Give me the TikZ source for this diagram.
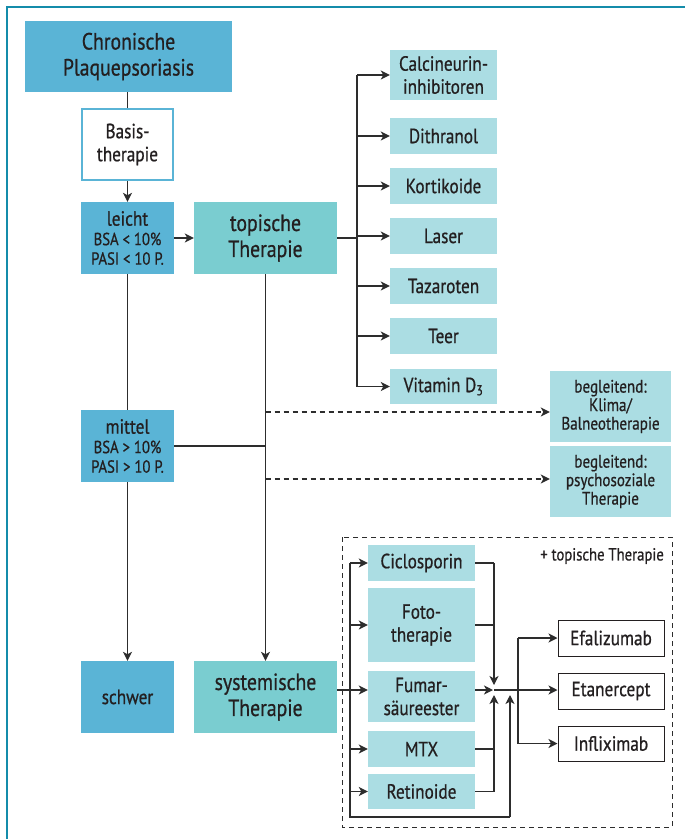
\documentclass[tikz,border=0pt]{standalone}
\usepackage{fontspec}
\setmainfont[FakeStretch=0.84,FakeBold=0.7]{PT Sans}
\usetikzlibrary{arrows.meta}
\definecolor{cblue}{RGB}{90,180,214}
\definecolor{cteal}{RGB}{122,205,208}
\definecolor{clight}{RGB}{171,221,227}
\definecolor{cframe}{RGB}{20,140,170}
\definecolor{ctext}{RGB}{35,31,32}
\definecolor{cline}{RGB}{45,45,45}
\newcommand{\fsXL}{\fontsize{23.5}{26}\selectfont}
\newcommand{\fsL}{\fontsize{20.5}{23}\selectfont}
\newcommand{\fsM}{\fontsize{18}{18.5}\selectfont}
\newcommand{\fsS}{\fontsize{17.5}{19.5}\selectfont}
\newcommand{\fsP}{\fontsize{17.5}{19}\selectfont}
\begin{document}
\begin{tikzpicture}[x=1pt,y=-1pt,
  box/.style={rectangle, inner sep=0pt, align=center, text=ctext},
  bluebox/.style={box, fill=cblue},
  tealbox/.style={box, fill=cteal},
  lightbox/.style={box, fill=clight},
  whitebox/.style={box, fill=white, draw=ctext, line width=1pt},
  ln/.style={draw=cline, line width=1.3pt},
  arr/.style={ln, -{Stealth[length=9pt,width=9pt,inset=2.5pt]}},
  darr/.style={arr, dash pattern=on 5pt off 4pt},
]
\useasboundingbox (0,0) rectangle (685,839);
\draw[cframe, line width=2pt] (7,845) -- (7,7) -- (690,7);

% left column
\node[bluebox, minimum width=207pt, minimum height=71pt, font=\fsXL] (chron) at (128.5,56.5) {Chronische\\Plaquepsoriasis};
\node[box, fill=white, draw=cblue, line width=2pt, minimum width=91pt, minimum height=71pt, font=\fsL] (basis) at (127.5,144.5) {Basis-\\therapie};
\node[bluebox, minimum width=93pt, minimum height=72pt, font=\fsS] (leicht) at (127.5,238) {{\fsL leicht}\\BSA < 10\%\\PASI < 10 P.};
\node[tealbox, minimum width=143pt, minimum height=72pt, font=\fsXL] (topische) at (265.5,238) {topische\\Therapie};
\node[bluebox, minimum width=93pt, minimum height=72pt, font=\fsS] (mittel) at (127.5,446) {{\fsL mittel}\\BSA > 10\%\\PASI > 10 P.};
\node[bluebox, minimum width=93pt, minimum height=72pt, font=\fsL] (schwer) at (127.5,697) {schwer};
\node[tealbox, minimum width=143pt, minimum height=72pt, font=\fsXL] (system) at (265.5,697) {systemische\\Therapie};

% topical list
\node[lightbox, minimum width=107pt, minimum height=50pt, font=\fsL] (calc) at (443.5,75) {Calcineurin-\\inhibitoren};
\node[lightbox, minimum width=107pt, minimum height=36pt, font=\fsL] (dith) at (443.5,136) {Dithranol};
\node[lightbox, minimum width=107pt, minimum height=36pt, font=\fsL] (kort) at (443.5,186) {Kortikoide};
\node[lightbox, minimum width=107pt, minimum height=36pt, font=\fsL] (laser) at (443.5,236) {Laser};
\node[lightbox, minimum width=107pt, minimum height=36pt, font=\fsL] (taz) at (443.5,286) {Tazaroten};
\node[lightbox, minimum width=107pt, minimum height=36pt, font=\fsL] (teer) at (443.5,336) {Teer};
\node[lightbox, minimum width=107pt, minimum height=35pt, font=\fsL] (vitd) at (443.5,386.5) {Vitamin D\textsubscript{3}};

% accompanying
\node[lightbox, minimum width=121pt, minimum height=71pt, font=\fsM] (klima) at (610.5,406.5) {begleitend:\\Klima/\\Balneotherapie};
\node[lightbox, minimum width=121pt, minimum height=71pt, font=\fsM] (psycho) at (610.5,481.5) {begleitend:\\psychosoziale\\Therapie};

% systemic group
\draw[cline, line width=1pt, dash pattern=on 5pt off 4pt] (342,537) rectangle (672,827);
\node[box, anchor=east, font=\fsP] (plus) at (664,556) {+ topische Therapie};
\node[lightbox, minimum width=107pt, minimum height=36pt, font=\fsL] (cic) at (421.5,563) {Ciclosporin};
\node[lightbox, minimum width=107pt, minimum height=74pt, font=\fsL] (foto) at (421.5,625) {Foto-\\therapie};
\node[lightbox, minimum width=107pt, minimum height=51pt, font=\fsL] (fumar) at (421.5,696.5) {Fumar-\\säureester};
\node[lightbox, minimum width=107pt, minimum height=36pt, font=\fsL] (mtx) at (421.5,749) {MTX};
\node[lightbox, minimum width=107pt, minimum height=35pt, font=\fsL] (retin) at (421.5,791.5) {Retinoide};

\node[whitebox, minimum width=106pt, minimum height=36pt, font=\fsL] (efa) at (611,638) {Efalizumab};
\node[whitebox, minimum width=106pt, minimum height=36pt, font=\fsL] (etan) at (611,691) {Etanercept};
\node[whitebox, minimum width=106pt, minimum height=35pt, font=\fsL] (infl) at (611,743.5) {Infliximab};

% connectors left
\draw[ln] (basis.north |- chron.south) -- (basis.north);
\draw[arr] (basis.south) -- (leicht.north);
\draw[arr] (leicht.east) -- (topische.west);
\draw[ln] (leicht.south) -- (mittel.north);
\draw[arr] (mittel.south) -- (schwer.north);
\draw[arr] (topische.south) -- (system.north);
\draw[ln] (mittel.east) -- (mittel.east -| topische.south);
\draw[darr] (topische.south |- 0,412) -- (klima.west |- 0,412);
\draw[darr] (topische.south |- 0,479) -- (psycho.west |- 0,479);

% topical bus
\coordinate (tb) at (357,0);
\draw[ln] (topische.east) -- (tb |- topische.east);
\draw[ln] (tb |- calc.west) -- (tb |- vitd.west);
\foreach \n in {calc,dith,kort,laser,taz,teer,vitd}
  \draw[arr] (tb |- \n.west) -- (\n.west);

% systemic connectors
\coordinate (sy) at (0,690);
\coordinate (lb) at (350,0);
\coordinate (rb) at (494,0);
\coordinate (bb) at (510,817);
\coordinate (sb) at (518,0);
\coordinate (cv) at (494,690);
\draw[ln] (system.east |- sy) -- (lb |- sy);
\draw[arr] (lb |- sy) -- (fumar.west |- sy);
\draw[ln] (lb |- cic.west) -- (lb |- bb) -- (bb);
\draw[arr] (bb) -- (bb |- 0,695);
\foreach \n in {cic,foto,mtx,retin}
  \draw[arr] (lb |- \n.west) -- (\n.west);
\draw[ln] (cic.east) -- (rb |- cic.east);
\draw[arr] (rb |- cic.east) -- (rb |- 0,685);
\draw[ln] (foto.east) -- (rb |- foto.east);
\draw[arr] (fumar.east |- sy) -- (493,690);
\draw[ln] (mtx.east) -- (rb |- mtx.east);
\draw[ln] (retin.east) -- (rb |- retin.east);
\draw[arr] (rb |- retin.east) -- (rb |- 0,695);
\draw[arr] (cv) -- (etan.west |- cv);
\draw[ln] (sb |- efa.west) -- (sb |- infl.west);
\draw[arr] (sb |- efa.west) -- (efa.west);
\draw[arr] (sb |- infl.west) -- (infl.west);
\end{tikzpicture}
\end{document}
